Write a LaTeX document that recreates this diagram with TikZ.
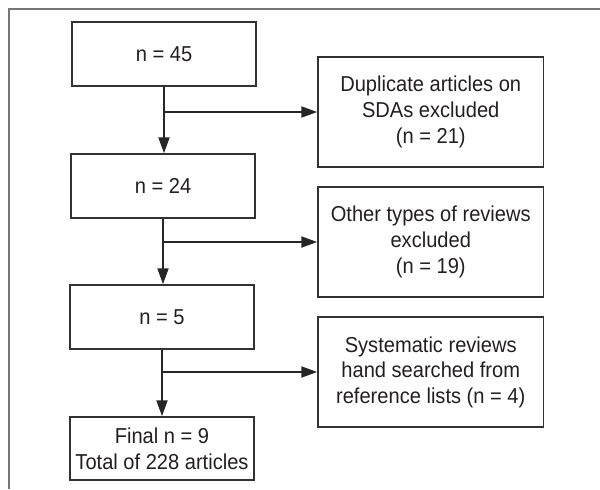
\documentclass[tikz,border=0pt]{standalone}
\usepackage{fontspec}
\setmainfont{Liberation Sans}[FakeStretch=0.93]
\usetikzlibrary{arrows.meta}

\definecolor{linie}{HTML}{333333}
\definecolor{rahmen}{HTML}{777777}
\definecolor{schrift}{HTML}{231F20}

\begin{document}
\begin{tikzpicture}[x=0.5pt, y=-0.5pt,
		kasten/.style={draw=linie, line width=0.75pt, align=center, inner sep=0pt, text=schrift, font=\fontsize{10.8}{12.8}\selectfont},
		links/.style={kasten, minimum width=92pt, minimum height=32pt},
		rechts/.style={kasten, minimum width=112.75pt, minimum height=55pt},
		pfeil/.style={draw=black!85, line width=1pt, -{Triangle[length=8pt, width=5.5pt]}}]
		\useasboundingbox (0,0) rectangle (600,489);
		\draw[rahmen, line width=0.75pt] (9,489) -- (9,9) -- (600,9);
		
		\node[links] (n45) at (164,54) {n = 45};
		\node[links] (n24) at (163,186) {n = 24};
		\node[links] (n5) at (162,317) {n = 5};
		\node[links, minimum height=31.5pt] (fin) at (162,448.5) {Final n = 9\\Total of 228 articles};
		
		\node[rechts] (dup) at (430.75,112) {Duplicate articles on\\SDAs excluded\\(n = 21)};
		\node[rechts] (oth) at (430.75,242) {Other types of reviews\\excluded\\(n = 19)};
		\node[rechts] (sys) at (430.75,372) {Systematic reviews\\hand searched from\\reference lists (n = 4)};
		
		\draw[pfeil] (n45.south) -- (n45.south |- n24.north);
		\draw[pfeil] (n24.south) -- (n24.south |- n5.north);
		\draw[pfeil] (n5.south) -- (n5.south |- fin.north);
		
		\draw[pfeil] (n45.south |- dup.west) -- (dup.west);
		\draw[pfeil] (n24.south |- oth.west) -- (oth.west);
		\draw[pfeil] (n5.south |- sys.west) -- (sys.west);
	\end{tikzpicture}
\end{document}
